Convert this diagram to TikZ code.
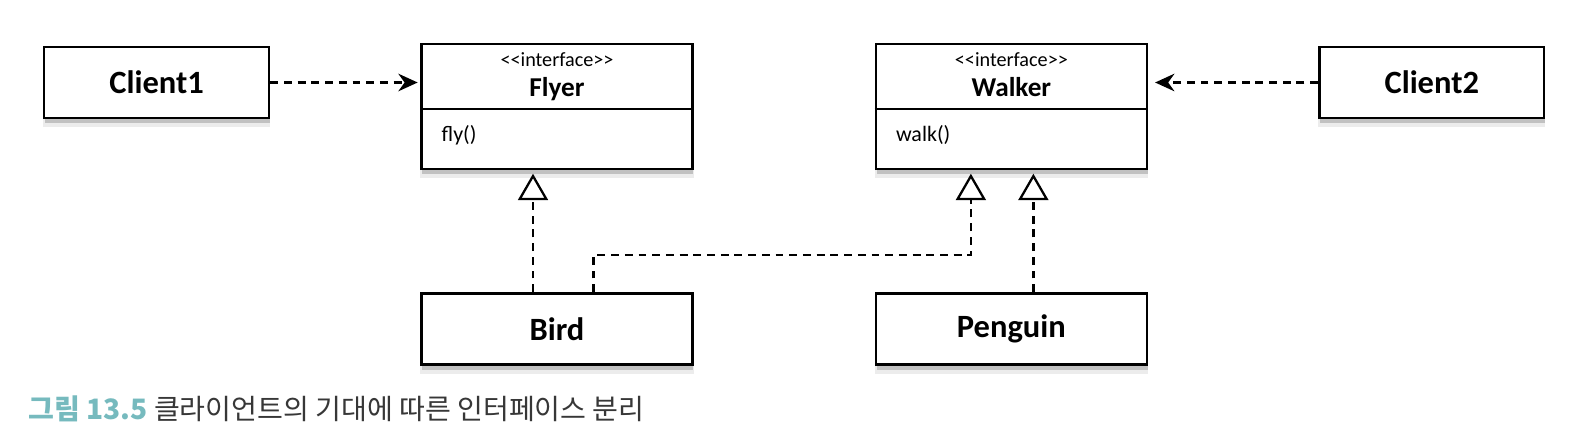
\documentclass[tikz,border=0pt]{standalone}
\usepackage{fontspec}
\setmainfont{Carlito}
\newfontfamily\kofont{Noto Sans CJK KR}
\usepackage{xcolor}
\usepackage{tikz}
\usetikzlibrary{arrows.meta, positioning, shadows, calc}
\definecolor{capteal}{RGB}{118,186,190}
\definecolor{capgray}{RGB}{55,55,55}

\begin{document}
\begin{tikzpicture}[
    x=0.02cm, y=-0.02cm,
    box/.style={rectangle, draw, line width=1.4pt, fill=white,
        drop shadow={shadow xshift=0pt, shadow yshift=-5pt, shadow scale=1.01, opacity=0.15},
        drop shadow={shadow xshift=0.5pt, shadow yshift=-3pt, opacity=0.4},
        font=\fontsize{18.5}{20}\selectfont\bfseries},
    client/.style={box, minimum width=4.5cm, minimum height=1.42cm},
    impl/.style={box, minimum width=5.42cm, minimum height=1.42cm},
    iface/.style={box, minimum width=5.42cm, minimum height=2.5cm},
    stereo/.style={font=\fontsize{11.5}{13}\selectfont, anchor=base, inner sep=0pt},
    iname/.style={font=\fontsize{15.5}{17}\selectfont\bfseries, anchor=base, inner sep=0pt},
    method/.style={font=\fontsize{12.5}{14}\selectfont, anchor=base west, inner sep=0pt},
    dep/.style={line width=1.3pt, dash pattern=on 4.5pt off 3.3pt, -{Stealth[length=11pt, width=10pt]}},
    real/.style={line width=1.3pt, dash pattern=on 4.5pt off 3.3pt, -{Triangle[open, length=15pt, width=17pt, line width=1.3pt]}, shorten >=2pt}
]
\useasboundingbox (0,0) rectangle (1594,448);

% interfaces
\node [iface] (flyer) at (557,106.5) {};
\node [iface, right=3.62cm of flyer] (walker) {};
\draw [line width=1.4pt] ($(flyer.north west)+(0,66)$) -- ($(flyer.north east)+(0,66)$);
\draw [line width=1.4pt] ($(walker.north west)+(0,66)$) -- ($(walker.north east)+(0,66)$);
\node [stereo] (flyerstereo) at ($(flyer.north)+(0,24)$) {<{}<interface>{}>};
\node [iname] (flyertitle) at ($(flyer.north)+(0,54)$) {Flyer};
\node [method] (flyerop) at ($(flyer.north west)+(21,99)$) {fly()};
\node [stereo] (walkerstereo) at ($(walker.north)+(0,24)$) {<{}<interface>{}>};
\node [iname] (walkertitle) at ($(walker.north)+(0,54)$) {Walker};
\node [method] (walkerop) at ($(walker.north west)+(21,99)$) {walk()};

% clients and classes
\node [client, left=3cm of flyer.north west, anchor=north east, yshift=-0.06cm] (client1) {Client1};
\node [client, right=3.4cm of walker.north east, anchor=north west, yshift=-0.06cm] (client2) {Client2};
\node [impl, below=2.44cm of flyer] (bird) {Bird};
\node [impl, below=2.44cm of walker] (penguin) {Penguin};

\coordinate (bend) at ([xshift=-0.81cm]walker.south |- 0,255);

\draw [dep, shorten >=1.5pt] (client1.east) -- (client1.east -| flyer.west);
\draw [dep, shorten >=4pt] (client2.west) -- (client2.west -| walker.east);
\draw [real] ([xshift=-0.48cm]bird.north) -- ([xshift=-0.48cm]flyer.south);
\draw [real] ([xshift=0.73cm]bird.north) |- (bend) -- ([xshift=-0.81cm]walker.south);
\draw [real] ([xshift=0.44cm]penguin.north) -- ([xshift=0.44cm]walker.south);

\node [anchor=base west, inner sep=0pt, font=\kofont\fontsize{16}{18}\selectfont, text=capgray] (caption) at (28,420)
    {\textcolor{capteal}{\bfseries 그림 13.5} 클라이언트의 기대에 따른 인터페이스 분리};
\end{tikzpicture}
\end{document}
